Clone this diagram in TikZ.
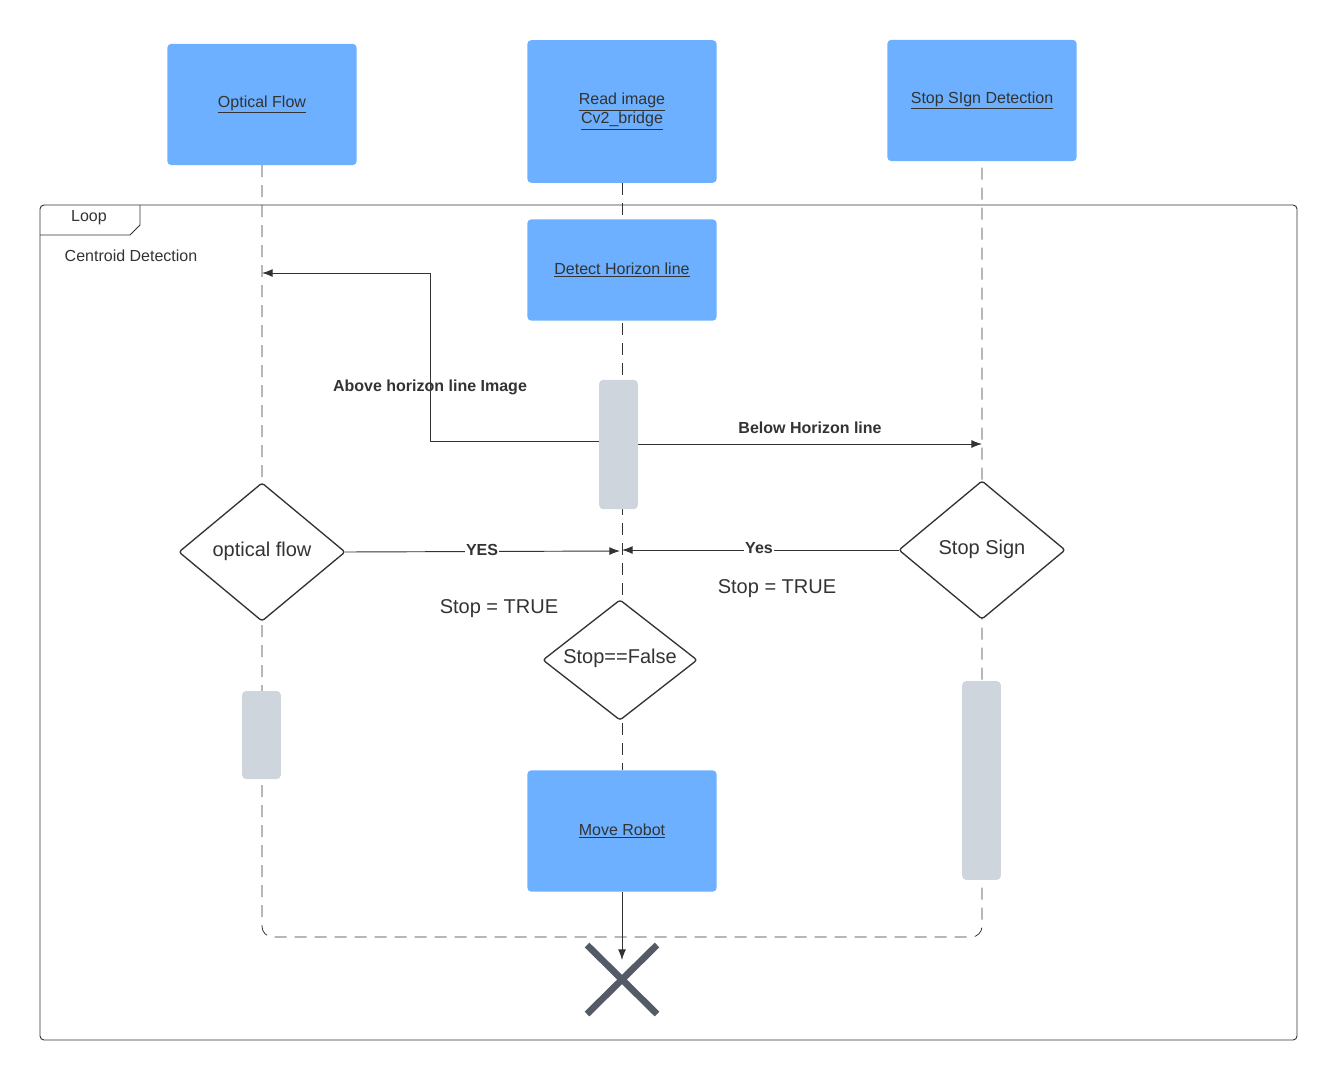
\documentclass[tikz,border=0pt]{standalone}
\usepackage{fontspec}
\setmainfont{Liberation Sans}
\usetikzlibrary{arrows.meta}
\definecolor{bx}{HTML}{6CB0FF}
\definecolor{gb}{HTML}{CED5DD}
\definecolor{tx}{HTML}{333333}
\definecolor{xc}{HTML}{545B66}
\tikzset{
 blue box/.style={fill=bx,draw=none,rounded corners=3pt,minimum width=142pt,minimum height=91pt,inner sep=0pt,text=tx,font=\fontsize{12}{14}\selectfont,align=center},
 bar/.style={fill=gb,draw=none,rounded corners=3pt,minimum width=29pt,inner sep=0pt},
 dia/.style={draw=tx,line width=1pt,text=tx,font=\fontsize{15}{17}\selectfont},
 life/.style={draw=tx,dash pattern=on 9pt off 6pt,line width=0.6pt},
 arr/.style={draw=tx,line width=0.7pt,-{Latex[length=8pt,width=6pt]}},
 lbl/.style={text=tx,font=\fontsize{12}{14}\selectfont\bfseries},
 plain/.style={text=tx,font=\fontsize{15}{17}\selectfont}
}
\begin{document}
\begin{tikzpicture}[x=0.75pt,y=-0.75pt]
\useasboundingbox (0,0) rectangle (1337,1081);
% frame
\draw[tx,line width=0.7pt,rounded corners=3pt] (40,205) rectangle (1297,1040);
\draw[tx,line width=0.7pt] (40,235) -- (130,235) -- (140,225) -- (140,205);
\node[text=tx,font=\fontsize{12}{14}\selectfont] (looplbl) at (89,218) {Loop};
\node[text=tx,font=\fontsize{12}{14}\selectfont] (cent) at (131,256) {Centroid Detection};
% lifelines
\coordinate (lb) at (262,937); \coordinate (rb) at (982,937);
\draw[life,rounded corners=8pt] (262,165) -- (lb) -- (rb) -- (982,161);
\draw[life] (622,183) -- (622,770);
% boxes
\node[blue box,minimum height=91pt] (of) at (262,104.5) {\underline{Optical Flow}};
\node[blue box,minimum height=107pt] (ri) at (622,111.5) {\underline{Read image}\\\underline{Cv2\_bridge}};
\node[blue box,minimum height=91pt] (ss) at (982,100.5) {\underline{Stop SIgn Detection}};
\node[blue box,minimum height=76pt] (dh) at (622,270) {\underline{Detect Horizon line}};
\node[blue box,minimum height=91pt] (mr) at (622,831) {\underline{Move Robot}};
% bars
\node[bar,minimum height=97pt] (b1) at (618.5,444.5) {};
\node[bar,minimum height=66pt] (b2) at (261.5,735) {};
\node[bar,minimum height=149pt] (b3) at (981.5,780.5) {};
% diamonds
\draw[dia,fill=white,rounded corners=2pt] (179,552) -- (262,483) -- (345,552) -- (262,621) -- cycle;
\node[dia,draw=none] (d1) at (262,551) {optical flow};
\draw[dia,fill=white,rounded corners=2pt] (899,550) -- (982,481) -- (1065,550) -- (982,619) -- cycle;
\node[dia,draw=none] (d2) at (982,549) {Stop Sign};
\draw[dia,fill=white,rounded corners=2pt] (543,660) -- (620,600) -- (697,660) -- (620,720) -- cycle;
\node[dia,draw=none] (d3) at (620,658) {Stop==False};
% arrows
\coordinate (t1) at (262,273);
\draw[arr] (599,441) -- (430,441) -- (430,273) -- (t1);
\node[lbl] (l1) at (430,387) {Above horizon line Image};
\coordinate (t2) at (982,444);
\draw[arr] (638,444) -- (t2);
\node[lbl] (l2) at (810,428) {Below Horizon line};
\coordinate (t3) at (620,551);
\draw[arr] (345,552) -- (t3);
\node[lbl,fill=white,inner sep=1pt] (l3) at (482,550) {YES};
\coordinate (t4) at (622,550);
\draw[arr] (899,550) -- (t4);
\node[lbl,fill=white,inner sep=1pt] (l4) at (759,548) {Yes};
\node[plain] (s1) at (499,609) {Stop = TRUE};
\node[plain] (s2) at (777,589) {Stop = TRUE};
\coordinate (t5) at (622,960);
\draw[arr] (mr.south) -- (t5);
% X
\draw[xc,line width=5pt] (587,945) -- (657,1014) (657,945) -- (587,1014);
\end{tikzpicture}
\end{document}
